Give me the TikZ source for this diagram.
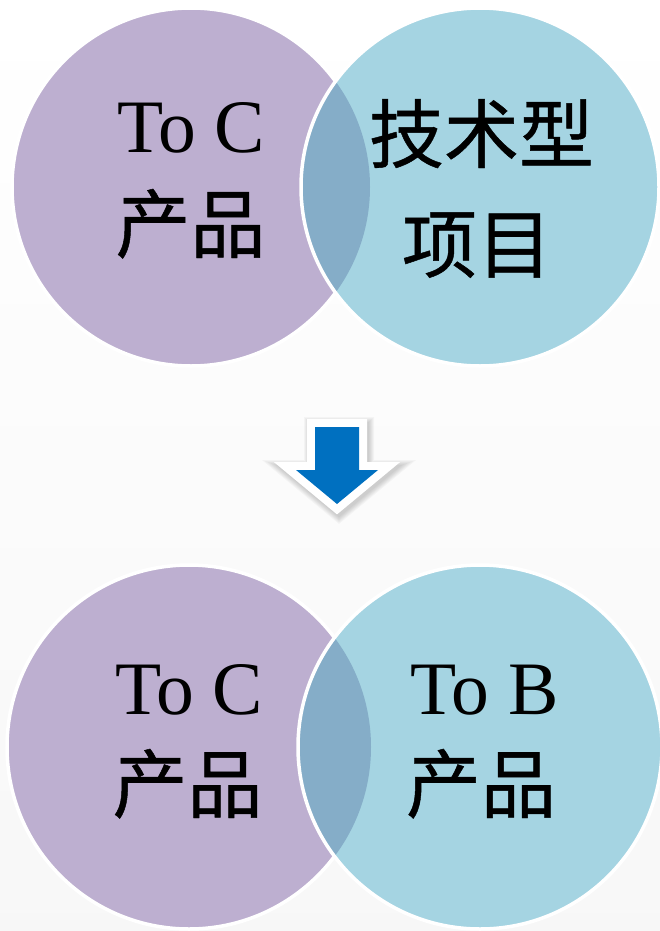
\documentclass[tikz,border=0pt]{standalone}
\usepackage{fontspec}
\setmainfont{Liberation Serif}
\newfontfamily\cjk{Noto Sans CJK SC}[FakeBold=0.6]
\definecolor{purp}{HTML}{BDAFD0}
\definecolor{aqua}{HTML}{A5D4E2}
\definecolor{lens}{HTML}{85ADC8}
\definecolor{arrowblue}{HTML}{0070C0}
\tikzset{
  latin/.style={inner sep=0pt, anchor=base, font=\fontsize{75.5}{80}\selectfont},
  han/.style={inner sep=0pt, anchor=base, font=\cjk\fontsize{75}{80}\selectfont},
  rim/.style={draw=white, line width=3.5pt},
}
\begin{document}
\begin{tikzpicture}[x=1pt,y=-1pt]
\useasboundingbox (0,0) rectangle (660,931);
\shade[top color=white, bottom color=gray!6] (0,0) rectangle (660,931);

% ---- top pair
\coordinate (tl) at (191,187);
\coordinate (tr) at (480,187);
\fill[purp, rim] (tl) circle (179pt);
\fill[aqua] (tr) circle (179pt);
\begin{scope}
  \clip (tl) circle (179pt);
  \fill[lens] (tr) circle (179pt);
\end{scope}
\draw[rim] (tr) circle (179pt);

% ---- bottom pair
\coordinate (bl) at (189,747);
\coordinate (br) at (480,747);
\fill[purp, rim] (bl) circle (182pt);
\fill[aqua] (br) circle (182pt);
\begin{scope}
  \clip (bl) circle (182pt);
  \fill[lens] (br) circle (182pt);
\end{scope}
\draw[rim] (br) circle (182pt);

% ---- arrow
\coordinate (a1) at (315,427);
\coordinate (a2) at (359,427);
\coordinate (a3) at (359,470);
\coordinate (a4) at (378,470);
\coordinate (a5) at (337,504);
\coordinate (a6) at (296,470);
\coordinate (a7) at (315,470);
\foreach \k in {0,1,2,3,4,5}{
  \draw[black, opacity=0.03, line join=miter, line width={16+2*\k}]
    ([shift={(2,3)}]a1) -- ([shift={(2,3)}]a2) -- ([shift={(2,3)}]a3) -- ([shift={(2,3)}]a4)
    -- ([shift={(2,3)}]a5) -- ([shift={(2,3)}]a6) -- ([shift={(2,3)}]a7) -- cycle;
}
\draw[white, line width=16pt, line join=miter, miter limit=10]
  (a1) -- (a2) -- (a3) -- (a4) -- (a5) -- (a6) -- (a7) -- cycle;
\fill[arrowblue] (a1) -- (a2) -- (a3) -- (a4) -- (a5) -- (a6) -- (a7) -- cycle;

% ---- texts
\node[latin] (t1) at (191,153) {To C};
\node[han]   (t2) at (190.5,252) {产品};
\node[han]   (t3) at (481.5,162) {技术型};
\node[han]   (t4) at (477,272) {项目};
\node[latin] (t5) at (189,714) {To C};
\node[han]   (t6) at (187.5,812) {产品};
\node[latin] (t7) at (484.5,714) {To B};
\node[han]   (t8) at (481,812) {产品};
\end{tikzpicture}
\end{document}
